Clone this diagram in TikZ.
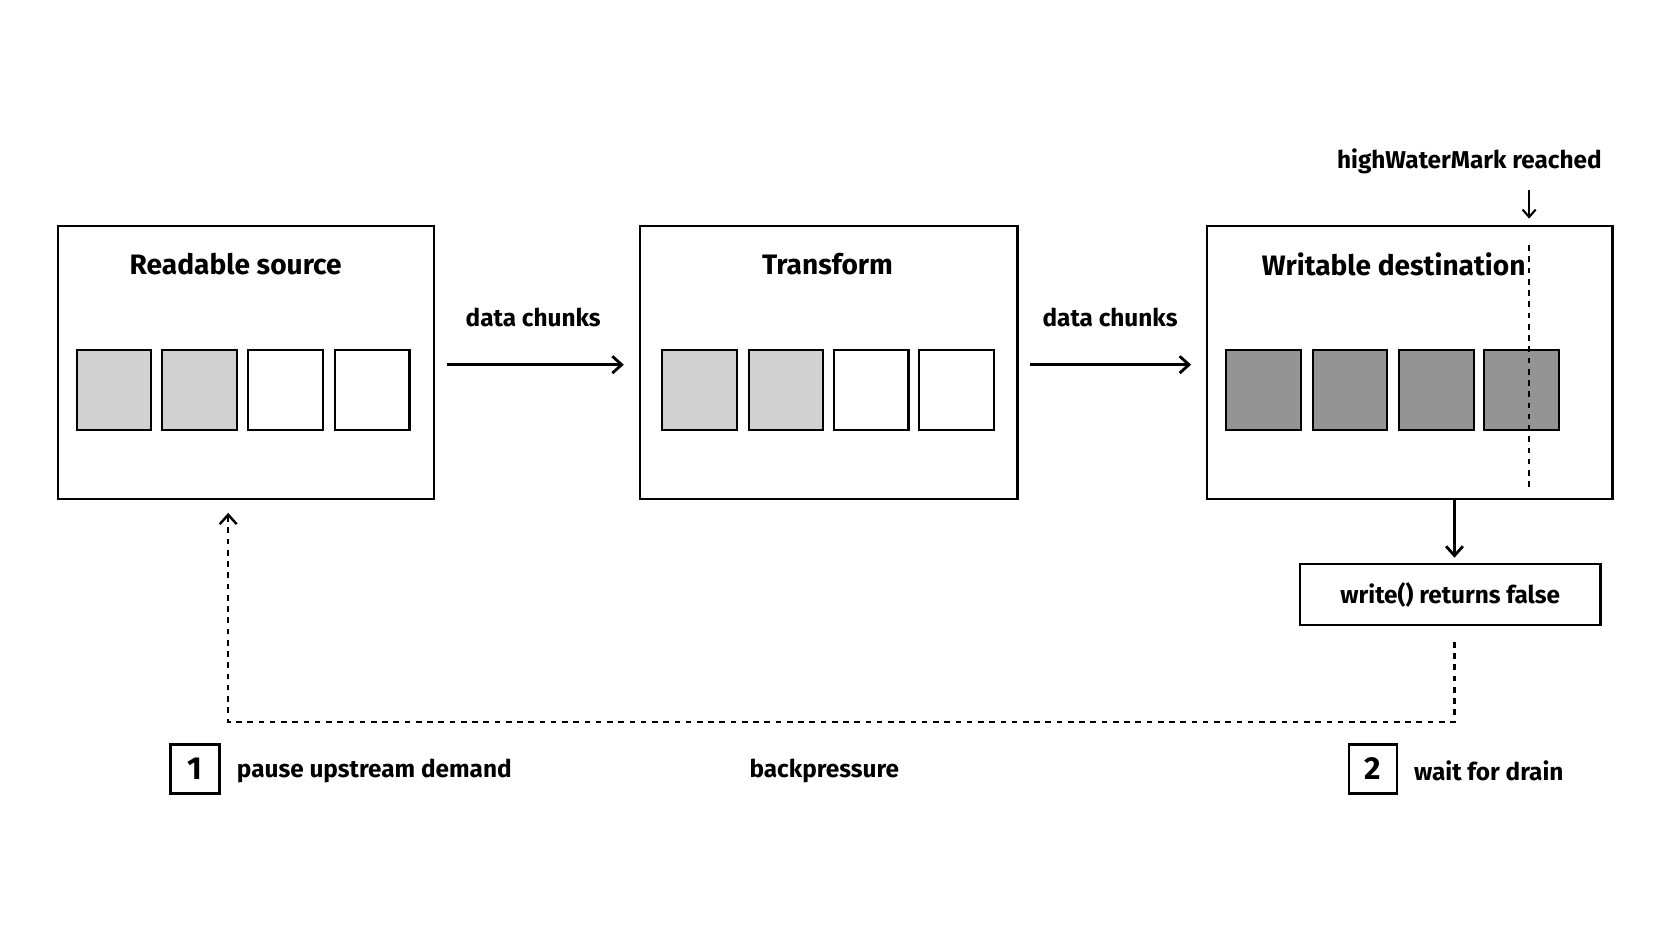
\documentclass[tikz,border=0pt]{standalone}
\usepackage{fontspec}
\setmainfont{Fira Sans}
\usetikzlibrary{arrows.meta}
\begin{document}
\begin{tikzpicture}[x=0.02cm,y=-0.02cm,
  box/.style={draw,line width=1.3pt},
  sq/.style={draw,line width=1.1pt},
  lt/.style={fill=black!18},
  dk/.style={fill=black!42},
  ttl/.style={font=\fontsize{15}{18}\selectfont\bfseries},
  lbl/.style={font=\fontsize{13}{16}\selectfont\bfseries},
  arr/.style={line width=1.5pt,-{Stealth[open,length=7pt,width=9pt]}},
  arrs/.style={line width=1.5pt,-{Straight Barb[length=5pt,width=9pt]}}]
\useasboundingbox (0,0) rectangle (1568,882);
\node[box,minimum width=353*0.02cm,minimum height=256*0.02cm,anchor=north west] (b1) at (53,211) {};
\node[box,minimum width=354*0.02cm,minimum height=256*0.02cm,anchor=north west] (b2) at (599,211) {};
\node[box,minimum width=380*0.02cm,minimum height=256*0.02cm,anchor=north west] (b3) at (1131,211) {};
\node[ttl] (t1) at (221,248) {Readable source};
\node[ttl] (t2) at (776,248) {Transform};
\node[ttl] (t3) at (1307,248) {Writable destination};
\foreach \x/\s [count=\i] in {72/lt,152/lt,233/,314/}
  \draw[sq,\s] (\x,328) rectangle +(70,75) node[coordinate] (a\i){};
\foreach \x/\s [count=\i] in {621/lt,702/lt,782/,862/}
  \draw[sq,\s] (\x,328) rectangle +(70,75) node[coordinate] (c\i){};
\foreach \x [count=\i] in {1150,1231,1312,1392}
  \draw[sq,dk] (\x,328) rectangle +(70,75) node[coordinate] (d\i){};
\coordinate (p1) at (419,342); \coordinate (p2) at (585,342);
\coordinate (p3) at (966,342); \coordinate (p4) at (1117,342);
\draw[arrs] (p1) -- (p2);
\draw[arrs] (p3) -- (p4);
\node[lbl] (l1) at (500,298) {data chunks};
\node[lbl] (l2) at (1041,298) {data chunks};
\node[lbl] (hw) at (1378,151) {highWaterMark reached};
\coordinate (h1) at (1434,178); \coordinate (h2) at (1434,205);
\draw[line width=1.1pt,-{Straight Barb[length=4pt,width=7pt]}] (h1) -- (h2);
\draw[dashed,line width=1.1pt] (1434,230) -- (1434,458);
\node[box,minimum width=282*0.02cm,minimum height=57*0.02cm,lbl] (w) at (1360,557.5) {write() returns false};
\draw[arrs] (1364,467) -- (1364,523);
\coordinate (q1) at (1364,602); \coordinate (q2) at (1364,677);
\coordinate (q3) at (214,677); \coordinate (q4) at (214,481);
\draw[dashed,line width=1.3pt,-{Straight Barb[length=5pt,width=9pt]}] (q1) -- (q2) -- (q3) -- (q4);
\node[box,minimum width=46*0.02cm,minimum height=46*0.02cm,font=\fontsize{17}{20}\selectfont\bfseries,inner sep=0pt] (n1) at (183,721) {1};
\node[lbl,anchor=west] (m1) at (216,723) {pause upstream demand};
\node[lbl] (bp) at (773,723) {backpressure};
\node[box,minimum width=45*0.02cm,minimum height=46*0.02cm,font=\fontsize{17}{20}\selectfont\bfseries,inner sep=0pt] (n2) at (1287.5,721) {2};
\node[lbl,anchor=west] (m2) at (1320,723) {wait for drain};
\end{tikzpicture}
\end{document}
